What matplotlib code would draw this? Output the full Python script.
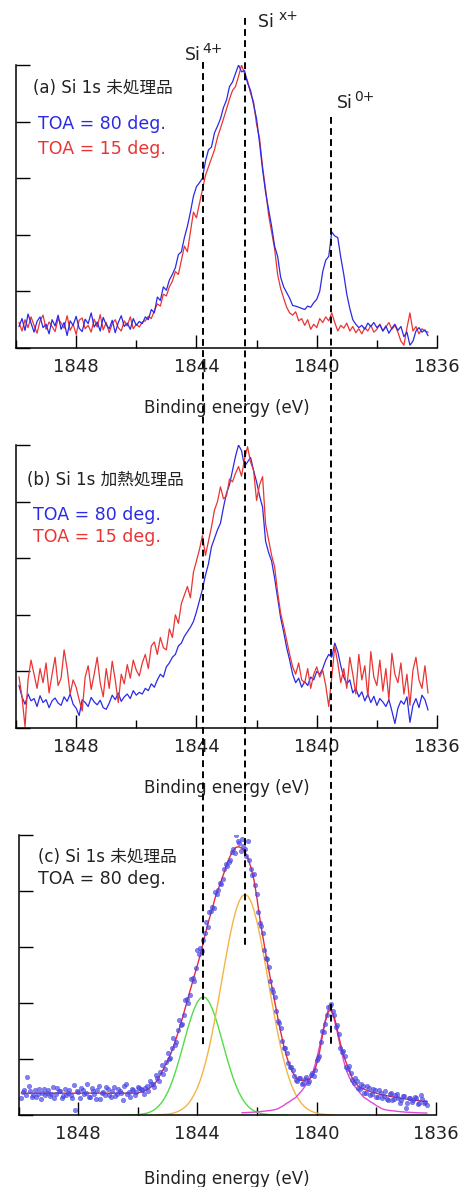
import numpy as np
import matplotlib
matplotlib.use('Agg')
import matplotlib.pyplot as plt
import matplotlib.transforms as mtrans
from matplotlib.lines import Line2D
from matplotlib.ticker import MultipleLocator, NullFormatter

plt.rcParams['font.family'] = ['DejaVu Sans', 'Noto Sans CJK JP']

# ---------------------------------------------------------------------------
# Data, energy grid 1849.9 -> 1836.3 eV in 0.1 eV steps
# ---------------------------------------------------------------------------
energy = np.round(1849.9 - 0.1 * np.arange(137), 1)
energy_mid = np.round(1849.85 - 0.1 * np.arange(136), 2)

# (a) untreated, TOA 80 / 15 deg
blue_a = [0.38, 0.52, 0.31, 0.60, 0.44, 0.28, 0.47, 0.55, 0.36, 0.42,
          0.25, 0.50, 0.39, 0.58, 0.33, 0.45, 0.22, 0.48, 0.40, 0.56,
          0.35, 0.29, 0.51, 0.43, 0.62, 0.37, 0.46, 0.30, 0.54, 0.41,
          0.34, 0.49, 0.27, 0.45, 0.57, 0.38, 0.44, 0.33, 0.52, 0.40,
          0.47, 0.43,
          0.55, 0.50, 0.68, 0.62, 0.90, 0.84, 1.08, 1.02, 1.20, 1.30,
          1.42, 1.65, 1.70, 1.95, 2.15, 2.40, 2.68, 2.85, 2.92, 3.00,
          3.30, 3.50, 3.55, 3.80, 3.92, 4.05, 4.25, 4.38, 4.62, 4.70,
          4.85, 5.00, 4.88, 4.90, 4.68, 4.55, 4.30, 4.05, 3.62, 3.15,
          2.75, 2.45, 2.15, 1.80, 1.62, 1.25, 1.08, 0.98, 0.88, 0.75,
          0.74, 0.72, 0.70, 0.68, 0.74, 0.72, 0.80, 0.86, 1.00, 1.35,
          1.55, 1.62, 2.05, 1.98, 1.95, 1.60, 1.30, 0.95, 0.70, 0.50,
          0.42, 0.36, 0.40, 0.33, 0.44, 0.38, 0.45, 0.36, 0.41, 0.30,
          0.39, 0.26, 0.35, 0.42, 0.31, 0.38, 0.20, 0.28, 0.05, 0.12,
          0.30, 0.36, 0.28, 0.32, 0.22]
red_a = [0.45, 0.30, 0.50, 0.36, 0.55, 0.40, 0.26, 0.48, 0.58, 0.33,
         0.46, 0.38, 0.29, 0.52, 0.44, 0.35, 0.57, 0.31, 0.42, 0.24,
         0.49, 0.53, 0.34, 0.40, 0.28, 0.51, 0.37, 0.59, 0.32, 0.45,
         0.27, 0.43, 0.50, 0.36, 0.30, 0.48, 0.39, 0.55, 0.34, 0.42,
         0.37, 0.46,
         0.48, 0.56, 0.52, 0.66, 0.78, 0.74, 0.95, 0.92, 1.08, 1.18,
         1.35, 1.30, 1.55, 1.80, 1.70, 2.05, 2.40, 2.30, 2.55, 2.80,
         3.05, 3.20, 3.35, 3.50, 3.72, 3.88, 4.05, 4.22, 4.40, 4.55,
         4.62, 4.80, 5.00, 4.85, 4.72, 4.50, 4.35, 3.95, 3.70, 3.20,
         2.80, 2.35, 2.05, 1.75, 1.30, 1.05, 0.88, 0.72, 0.62, 0.58,
         0.64, 0.48, 0.52, 0.40, 0.50, 0.33, 0.42, 0.36, 0.52, 0.45,
         0.55, 0.48, 0.62, 0.45, 0.30, 0.40, 0.35, 0.44, 0.30, 0.38,
         0.27, 0.34, 0.25, 0.36, 0.30, 0.40, 0.28, 0.33, 0.42, 0.30,
         0.37, 0.45, 0.33, 0.40, 0.28, 0.12, 0.05, 0.35, 0.62, 0.30,
         0.38, 0.25, 0.34, 0.30, 0.28]

# (b) heat treated, TOA 80 / 15 deg
blue_b = [0.75, 0.55, 0.42, 0.60, 0.48, 0.52, 0.38, 0.57, 0.45, 0.50,
          0.36, 0.48, 0.53, 0.44, 0.40, 0.55, 0.47, 0.60, 0.42, 0.35,
          0.22, 0.50, 0.45, 0.38, 0.54, 0.46, 0.41, 0.49, 0.36, 0.33,
          0.44, 0.58, 0.50, 0.62, 0.47, 0.55, 0.60, 0.52, 0.66, 0.58,
          0.63, 0.60,
          0.70, 0.66, 0.78, 0.72, 0.85, 0.95, 0.90, 1.08, 1.15, 1.25,
          1.30, 1.45, 1.50, 1.62, 1.70, 1.78, 1.88, 2.05, 2.25, 2.45,
          2.70, 2.90, 3.20, 3.35, 3.50, 3.62, 3.90, 4.15, 4.30, 4.55,
          4.80, 5.00, 4.90, 4.62, 4.70, 4.78, 4.55, 4.35, 4.10, 3.90,
          3.30, 3.10, 2.95, 2.65, 2.30, 1.95, 1.70, 1.42, 1.20, 0.95,
          0.80, 0.88, 0.72, 0.82, 0.75, 0.90, 0.85, 1.00, 0.95, 1.05,
          1.20, 1.30, 1.25, 1.50, 1.35, 1.10, 0.90, 0.78, 0.85, 0.62,
          0.70, 0.55, 0.64, 0.48, 0.60, 0.45, 0.56, 0.40, 0.52, 0.46,
          0.38, 0.50, 0.30, 0.08, 0.35, 0.48, 0.42, 0.55, 0.10, 0.40,
          0.52, 0.36, 0.58, 0.50, 0.32]
red_b = [0.90, 0.55, 0.02, 0.85, 1.20, 0.95, 0.70, 1.05, 0.80, 1.15,
         0.62, 0.95, 1.25, 0.75, 0.88, 1.38, 1.05, 0.60, 0.85, 0.72,
         0.50, 0.30, 0.90, 1.10, 0.68, 0.95, 1.25, 0.80, 0.55, 1.05,
         0.70, 1.18, 0.85, 0.45, 0.95, 0.78, 1.12, 0.88, 1.20, 1.02,
         0.92, 1.15,
         1.30, 1.05, 1.45, 1.52, 1.30, 1.60, 1.42, 1.38, 1.75, 1.60,
         2.00, 1.85, 2.20, 2.35, 2.50, 2.30, 2.75, 2.95, 3.15, 3.40,
         3.05, 3.30, 3.55, 3.85, 4.00, 4.26, 4.05, 4.10, 4.40, 4.35,
         4.50, 4.62, 4.45, 4.75, 4.97, 4.70, 4.55, 4.02, 4.30, 4.44,
         3.60, 3.32, 3.05, 2.85, 2.40, 2.03, 1.80, 1.55, 1.30, 1.08,
         0.95, 1.15, 0.85, 0.80, 1.05, 0.70, 0.95, 1.08, 0.90, 1.02,
         0.75, 0.38, 0.90, 1.44, 1.15, 0.80, 1.05, 0.70, 1.25, 0.95,
         0.60, 1.30, 0.85, 1.10, 0.55, 1.35, 0.90, 0.75, 1.20, 0.65,
         1.05, 0.50, 1.32, 0.95, 0.80, 1.15, 0.60, 0.95, 0.40, 1.02,
         1.25, 0.85, 0.70, 1.10, 0.62]

# (c) untreated, TOA 80 deg: measured points (two interleaved grids) and fit envelope
dots_c = [0.30, 0.45, 0.68, 0.42, 0.36, 0.33, 0.47, 0.40, 0.35, 0.44,
          0.38, 0.30, 0.49, 0.42, 0.34, 0.36, 0.45, 0.31, 0.09, 0.41,
          0.48, 0.37, 0.55, 0.33, 0.43, 0.29, 0.52, 0.40, 0.36, 0.47,
          0.32, 0.50, 0.38, 0.43, 0.27, 0.55, 0.41, 0.46, 0.35, 0.50,
          0.47, 0.38, 0.52, 0.60, 0.55, 0.72, 0.60, 0.90, 0.82, 1.10,
          1.02, 1.38, 1.30, 1.70, 1.62, 2.05, 2.00, 2.42, 2.40, 2.95,
          2.98, 3.12, 3.45, 3.62, 3.72, 3.98, 4.02, 4.12, 4.40, 4.45,
          4.55, 4.75, 5.00, 4.85, 4.92, 4.75, 4.90, 4.40, 4.30, 3.95,
          3.42, 3.25, 2.80, 2.65, 2.25, 2.10, 1.68, 1.55, 1.20, 1.10,
          0.85, 0.80, 0.62, 0.66, 0.56, 0.64, 0.58, 0.72, 0.70, 0.98,
          1.05, 1.50, 1.62, 1.92, 1.98, 1.78, 1.60, 1.20, 1.15, 0.85,
          0.88, 0.62, 0.66, 0.48, 0.55, 0.40, 0.52, 0.36, 0.47, 0.33,
          0.44, 0.30, 0.42, 0.26, 0.40, 0.28, 0.37, 0.22, 0.34, 0.12,
          0.30, 0.24, 0.33, 0.20, 0.36, 0.22, 0.18]
dots_c_mid = [0.41, 0.36, 0.52, 0.33, 0.44, 0.38, 0.29, 0.46, 0.40, 0.34,
              0.50, 0.37, 0.43, 0.31, 0.47, 0.39, 0.35, 0.53, 0.42, 0.30,
              0.45, 0.40, 0.33, 0.48, 0.37, 0.44, 0.28, 0.41, 0.50, 0.36,
              0.43, 0.34, 0.46, 0.40, 0.52, 0.38, 0.33, 0.44, 0.41, 0.48,
              0.44, 0.49, 0.42, 0.56, 0.50, 0.66, 0.76, 0.74, 0.95, 1.00,
              1.20, 1.25, 1.52, 1.60, 1.78, 2.08, 2.15, 2.45, 2.62, 2.88,
              2.92, 3.25, 3.35, 3.65, 3.70, 3.95, 4.15, 4.22, 4.48, 4.52,
              4.70, 4.68, 4.90, 4.72, 4.80, 4.62, 4.55, 4.28, 4.10, 3.62,
              3.38, 2.95, 2.78, 2.40, 2.20, 1.85, 1.65, 1.32, 1.20, 0.92,
              0.86, 0.70, 0.60, 0.66, 0.58, 0.68, 0.60, 0.75, 0.80, 1.02,
              1.30, 1.48, 1.78, 1.95, 1.85, 1.58, 1.45, 1.12, 1.05, 0.82,
              0.75, 0.58, 0.60, 0.46, 0.52, 0.40, 0.48, 0.38, 0.45, 0.32,
              0.40, 0.34, 0.29, 0.38, 0.26, 0.35, 0.30, 0.27, 0.34, 0.22,
              0.31, 0.26, 0.30, 0.21, 0.29, 0.24]
fit_total = [0.39] * 40 + [
    0.41, 0.42, 0.45, 0.48, 0.52, 0.58, 0.66, 0.76, 0.86, 0.96,
    1.08, 1.22, 1.38, 1.55, 1.73, 1.92, 2.11, 2.30, 2.49, 2.67,
    2.86, 3.08, 3.30, 3.50, 3.68, 3.88, 4.03, 4.18, 4.33, 4.50,
    4.62, 4.72, 4.78, 4.79, 4.76, 4.70, 4.58, 4.42, 4.20, 3.88,
    3.50, 3.18, 2.87, 2.58, 2.30, 2.02, 1.74, 1.48, 1.24, 1.04,
    0.88, 0.76, 0.68, 0.63, 0.62, 0.62, 0.63, 0.66, 0.74, 0.90,
    1.12, 1.42, 1.68, 1.85, 1.87, 1.74, 1.52, 1.28, 1.08, 0.93,
    0.79, 0.66, 0.58, 0.52, 0.48, 0.46, 0.44, 0.42, 0.40, 0.39,
    0.375, 0.36, 0.35, 0.34, 0.33, 0.32, 0.31, 0.30, 0.29, 0.285,
    0.28, 0.27, 0.265, 0.26, 0.25, 0.245, 0.24]

# fitted components, each on its own 0.1 eV grid starting at the given energy
green_start = 1846.6   # Si4+
green_fit = [0.000, 0.001, 0.001, 0.002, 0.003, 0.005, 0.008, 0.013, 0.021, 0.033,
             0.050, 0.075, 0.110, 0.157, 0.220, 0.300, 0.400, 0.522, 0.665, 0.828,
             1.008, 1.198, 1.392, 1.581, 1.754, 1.900, 2.015, 2.086, 2.110, 2.086,
             2.015, 1.900, 1.754, 1.581, 1.392, 1.198, 1.008, 0.828, 0.665, 0.522,
             0.400, 0.300, 0.220, 0.157, 0.110, 0.075, 0.050, 0.033, 0.021, 0.013,
             0.008, 0.005, 0.003, 0.002, 0.001, 0.001, 0.000]
orange_start = 1845.4  # Six+
orange_fit = [0.002, 0.004, 0.006, 0.010, 0.015, 0.023, 0.035, 0.052, 0.075, 0.106,
              0.148, 0.204, 0.277, 0.369, 0.483, 0.623, 0.790, 0.986, 1.210, 1.461,
              1.736, 2.028, 2.332, 2.637, 2.933, 3.210, 3.456, 3.660, 3.813, 3.908,
              3.940, 3.908, 3.813, 3.660, 3.456, 3.210, 2.933, 2.637, 2.332, 2.028,
              1.736, 1.461, 1.210, 0.986, 0.790, 0.623, 0.483, 0.369, 0.277, 0.204,
              0.148, 0.106, 0.075, 0.052, 0.035, 0.023, 0.015, 0.010, 0.006, 0.004,
              0.002]
magenta_start = 1842.5  # Si0+
magenta_fit = [0.040, 0.042, 0.045, 0.048, 0.051, 0.055, 0.060, 0.066, 0.072, 0.078,
               0.085, 0.095, 0.110, 0.140, 0.170, 0.210, 0.240, 0.280, 0.310, 0.370,
               0.430, 0.500, 0.580, 0.670, 0.800, 0.990, 1.220, 1.470, 1.700, 1.890,
               1.890, 1.700, 1.470, 1.220, 0.990, 0.800, 0.670, 0.580, 0.500, 0.430,
               0.370, 0.310, 0.280, 0.240, 0.210, 0.170, 0.140, 0.110, 0.095, 0.085,
               0.078, 0.072, 0.066, 0.060, 0.055, 0.051, 0.048, 0.045, 0.042, 0.040,
               0.038, 0.036, 0.035]

# chemical-state reference energies (dashed lines)
peak_names = ['4+', 'x+', '0+']
peak_energy = [1843.77, 1842.37, 1839.53]

# ---------------------------------------------------------------------------
BLUE = '#2a2ae6'
RED = '#ea3434'
TXT = '#222222'
W, H = 467, 1187

fig = plt.figure(figsize=(W / 100, H / 100), dpi=100)


def box(left, top, right, bottom):
    return [left / W, 1 - bottom / H, (right - left) / W, (bottom - top) / H]


def fxy(x, y):
    return x / W, 1 - y / H


def style_axes(ax, label_y):
    ax.set_xlim(1850, 1836)
    ax.set_ylim(0, 5)
    for s in ['top', 'right']:
        ax.spines[s].set_visible(False)
    for s in ['left', 'bottom']:
        ax.spines[s].set_linewidth(1.1)
    ax.xaxis.set_major_locator(MultipleLocator(4))
    ax.xaxis.set_minor_locator(MultipleLocator(2))
    ax.yaxis.set_major_locator(MultipleLocator(1))
    ax.yaxis.set_major_formatter(NullFormatter())
    ax.tick_params(axis='x', which='major', direction='in', length=9.5, width=1.0,
                   pad=7, labelsize=13, labelcolor=TXT)
    ax.tick_params(axis='x', which='minor', direction='in', length=5.5, width=1.0)
    ax.tick_params(axis='y', which='major', direction='in', length=10, width=1.0)
    ax.set_xlabel('Binding energy (eV)', fontsize=12, color=TXT)
    ax.xaxis.set_label_coords(0.5, label_y)


ax_a = fig.add_axes(box(16, 65, 437, 348))
ax_b = fig.add_axes(box(16, 445, 437, 728))
ax_c = fig.add_axes(box(18.5, 835, 435.7, 1115))

# (a)
ax_a.plot(energy, red_a, color=RED, lw=0.9)
ax_a.plot(energy, blue_a, color=BLUE, lw=0.9)
style_axes(ax_a, -0.18)

# (b)
ax_b.plot(energy, blue_b, color=BLUE, lw=0.9)
ax_b.plot(energy, red_b, color=RED, lw=0.9)
style_axes(ax_b, -0.18)

# (c)
for start, comp, col in [(green_start, green_fit, '#52dc4a'),
                         (orange_start, orange_fit, '#f4b445'),
                         (magenta_start, magenta_fit, '#e04ad6')]:
    e = np.round(start - 0.1 * np.arange(len(comp)), 1)
    ax_c.plot(e, comp, color=col, lw=1.0)
ax_c.plot(energy, fit_total, color='#e8283c', lw=1.0)
for e, d in [(energy, dots_c), (energy_mid, dots_c_mid)]:
    ax_c.plot(e, d, ls='none', marker='o', ms=3.3, color='#4a4ae8',
              alpha=0.7, mec='#3a3ad8', mew=0.3)
style_axes(ax_c, -0.195)

# panel annotations
fig.text(*fxy(33, 88), '(a) Si 1s 未処理品', fontsize=12, color=TXT, va='center')
fig.text(*fxy(38, 124), 'TOA = 80 deg.', fontsize=12.5, color=BLUE, va='center')
fig.text(*fxy(38, 149), 'TOA = 15 deg.', fontsize=12.5, color=RED, va='center')
fig.text(*fxy(27, 480), '(b) Si 1s 加熱処理品', fontsize=12, color=TXT, va='center')
fig.text(*fxy(33, 515), 'TOA = 80 deg.', fontsize=12.5, color=BLUE, va='center')
fig.text(*fxy(33, 537), 'TOA = 15 deg.', fontsize=12.5, color=RED, va='center')
fig.text(*fxy(38, 857), '(c) Si 1s 未処理品', fontsize=12, color=TXT, va='center')
fig.text(*fxy(38, 879), 'TOA = 80 deg.', fontsize=12.5, color=TXT, va='center')

# dashed reference lines spanning all three panels
trans = mtrans.blended_transform_factory(ax_a.transData, fig.transFigure)
line_span = {'4+': (62, 1045), 'x+': (18, 948), '0+': (117, 1048)}
label_pos = {'4+': (185, 55), 'x+': (258, 22), '0+': (337, 103)}
for name, e in zip(peak_names, peak_energy):
    top, bottom = line_span[name]
    fig.add_artist(Line2D([e, e], [1 - top / H, 1 - bottom / H], transform=trans,
                          color='black', lw=1.4, ls=(0, (3.5, 2.2)), zorder=5))
    lx, ly = label_pos[name]
    si = 'Si ' if name == 'x+' else 'Si'
    fig.text(*fxy(lx, ly), si, fontsize=12.5, color=TXT, va='center')
    fig.text(*fxy(lx + (21 if name == 'x+' else 17), ly - 6), name,
             fontsize=10, color=TXT, va='center')

fig.savefig('out.png', dpi=100)
